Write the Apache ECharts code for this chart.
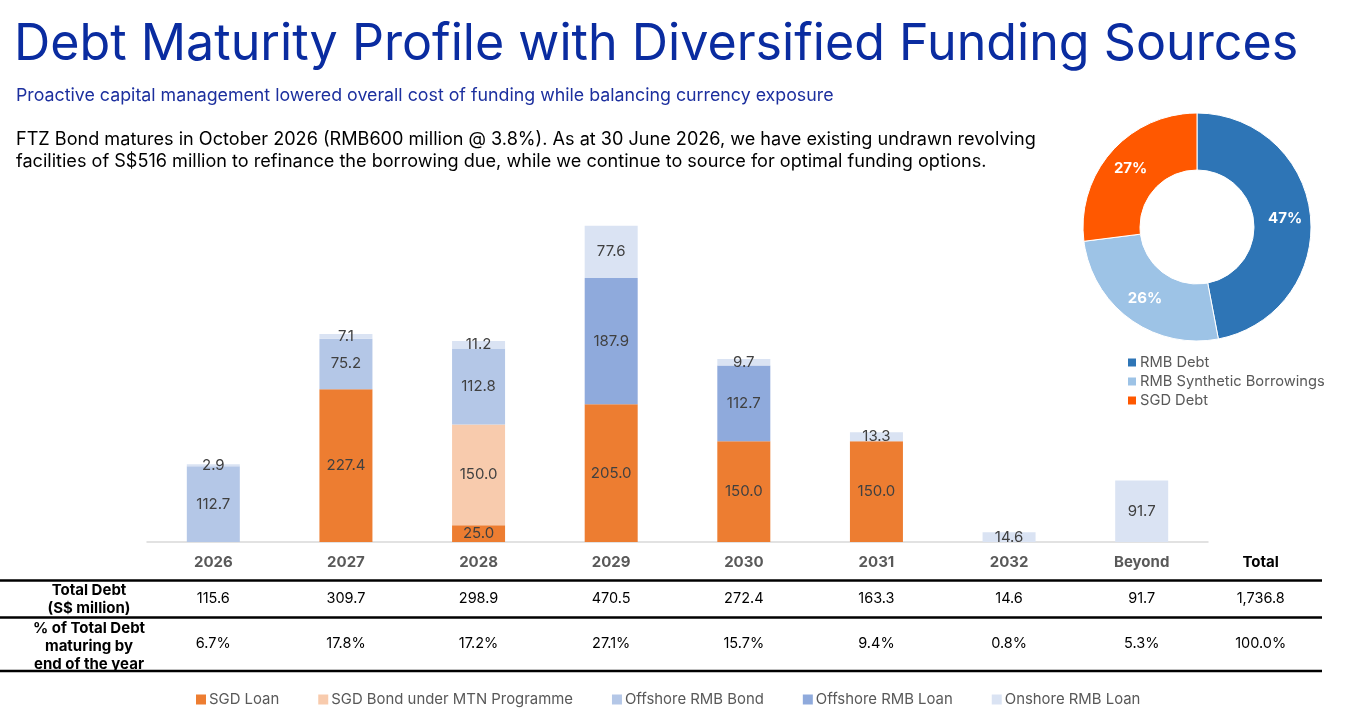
<!DOCTYPE html>
<html>
<head>
<meta charset="utf-8">
<title>Debt Maturity Profile</title>
<script src="https://cdn.jsdelivr.net/npm/echarts@6/dist/echarts.min.js"></script>
<style>
  html, body { margin: 0; padding: 0; background: #fff; }
  #main { width: 1347px; height: 726px; }
</style>
</head>
<body>
<div id="main"></div>
<script>
// 数据
var years = ["2026", "2027", "2028", "2029", "2030", "2031", "2032", "Beyond"];
var sgdLoan = [null, 227.4, 25.0, 205.0, 150.0, 150.0, null, null];
var sgdBond = [null, null, 150.0, null, null, null, null, null];
var offshoreBond = [112.7, 75.2, 112.8, null, null, null, null, null];
var offshoreLoan = [null, null, null, 187.9, 112.7, null, null, null];
var onshoreLoan = [2.9, 7.1, 11.2, 77.6, 9.7, 13.3, 14.6, 91.7];

var totalDebt = ["115.6", "309.7", "298.9", "470.5", "272.4", "163.3", "14.6", "91.7"];
var totalPct = ["6.7%", "17.8%", "17.2%", "27.1%", "15.7%", "9.4%", "0.8%", "5.3%"];
var grandTotal = "1,736.8";
var grandPct = "100.0%";

var pieNames = ["RMB Debt", "RMB Synthetic Borrowings", "SGD Debt"];
var pieValues = [47, 26, 27];

var FONT = "Inter, 'Noto Sans', sans-serif";

(function() {
  var myChart = echarts.init(document.getElementById("main"));

  function barSeries(name, data, color) {
    return {
      name: name,
      type: "bar",
      stack: "debt",
      barWidth: 53,
      data: data,
      itemStyle: { color: color },
      label: {
        show: true,
        position: "inside",
        color: "#404040",
        fontFamily: FONT,
        fontSize: 15,
        formatter: function(p) { return p.value == null ? "" : p.value.toFixed(1); }
      }
    };
  }

  var option = {
    animation: false,
    textStyle: { fontFamily: FONT },
    title: [
      {
        text: "Debt Maturity Profile with Diversified Funding Sources",
        left: 9,
        top: 15,
        textStyle: { fontFamily: FONT, fontSize: 50.2, fontWeight: "normal", color: "#0a2ca0" }
      },
      {
        text: "Proactive capital management lowered overall cost of funding while balancing currency exposure",
        left: 11,
        top: 82,
        textStyle: { fontFamily: FONT, fontSize: 17.8, fontWeight: "normal", color: "#1c2f9e" }
      },
      {
        text: "FTZ Bond matures in October 2026 (RMB600 million @ 3.8%). As at 30 June 2026, we have existing undrawn revolving\nfacilities of S$516 million to refinance the borrowing due, while we continue to source for optimal funding options.",
        left: 11,
        top: 124,
        textStyle: { fontFamily: FONT, fontSize: 18.1, fontWeight: "normal", color: "#000", lineHeight: 22 }
      }
    ],
    legend: [
      {
        data: ["SGD Loan", "SGD Bond under MTN Programme", "Offshore RMB Bond", "Offshore RMB Loan", "Onshore RMB Loan"],
        left: 191,
        top: 687,
        itemWidth: 10,
        itemHeight: 10,
        itemGap: 39,
        icon: "rect",
        textStyle: { color: "#595959", fontSize: 14.9, padding: [0, 0, 0, -2] }
      },
      {
        data: pieNames,
        orient: "vertical",
        left: 1121,
        top: 350,
        itemWidth: 10,
        itemHeight: 10,
        itemGap: 4,
        icon: "rect",
        textStyle: { color: "#595959", fontSize: 14.7, padding: [0, 0, 0, -2] }
      }
    ],
    grid: {
      left: 147,
      right: 139,
      top: 206,
      bottom: 184,
      containLabel: false
    },
    xAxis: {
      type: "category",
      data: years,
      axisTick: { show: false },
      axisLine: { lineStyle: { color: "#d9d9d9", width: 1.5 } },
      axisLabel: {
        color: "#595959",
        fontWeight: "bold",
        fontSize: 15,
        margin: 13
      }
    },
    yAxis: {
      type: "value",
      min: 0,
      max: 500,
      show: false
    },
    series: [
      barSeries("SGD Loan", sgdLoan, "#ed7d31"),
      barSeries("SGD Bond under MTN Programme", sgdBond, "#f8cbad"),
      barSeries("Offshore RMB Bond", offshoreBond, "#b4c7e7"),
      barSeries("Offshore RMB Loan", offshoreLoan, "#8faadc"),
      barSeries("Onshore RMB Loan", onshoreLoan, "#dae3f3"),
      {
        name: "资金来源",
        type: "pie",
        center: [1197, 227],
        radius: [57, 114],
        startAngle: 90,
        color: ["#2e75b6", "#9dc3e6", "#ff5800"],
        itemStyle: { borderColor: "#fff", borderWidth: 1 },
        label: {
          show: true,
          position: "inside",
          color: "#fff",
          fontWeight: "bold",
          fontSize: 15,
          formatter: "{c}%"
        },
        labelLine: { show: false },
        data: pieNames.map(function(n, i) { return { name: n, value: pieValues[i] }; })
      }
    ]
  };

  myChart.setOption(option);

  // 表格：按坐标轴位置排列文字
  var graphics = [];
  var lineYs = [580.5, 617.5, 671];
  lineYs.forEach(function(y) {
    graphics.push({
      type: "line",
      shape: { x1: 0, y1: y, x2: 1322, y2: y },
      style: { stroke: "#000", lineWidth: 2.5 }
    });
  });

  function cellText(x, y, text, bold, size) {
    graphics.push({
      type: "text",
      x: x,
      y: y,
      style: {
        text: text,
        font: (bold ? "bold " : "") + (size || 14) + "px " + FONT,
        fill: "#000",
        align: "center",
        verticalAlign: "middle",
        lineHeight: 18
      }
    });
  }

  cellText(89, 599, "Total Debt\n(S$ million)", true, 15);
  cellText(89, 646, "% of Total Debt\nmaturing by\nend of the year", true, 15);

  var lastX = 0;
  years.forEach(function(y, i) {
    var x = myChart.convertToPixel({ xAxisIndex: 0 }, y);
    lastX = x;
    cellText(x, 599, totalDebt[i], false, 14.5);
    cellText(x, 644, totalPct[i], false, 14.5);
  });
  var totalX = lastX + 119;
  cellText(totalX, 562, "Total", true, 15);
  cellText(totalX, 599, grandTotal, false, 14.5);
  cellText(totalX, 644, grandPct, false, 14.5);

  myChart.setOption({ graphic: graphics });

  window.addEventListener("resize", function() {
    myChart.resize();
  });
})();
</script>
</body>
</html>
